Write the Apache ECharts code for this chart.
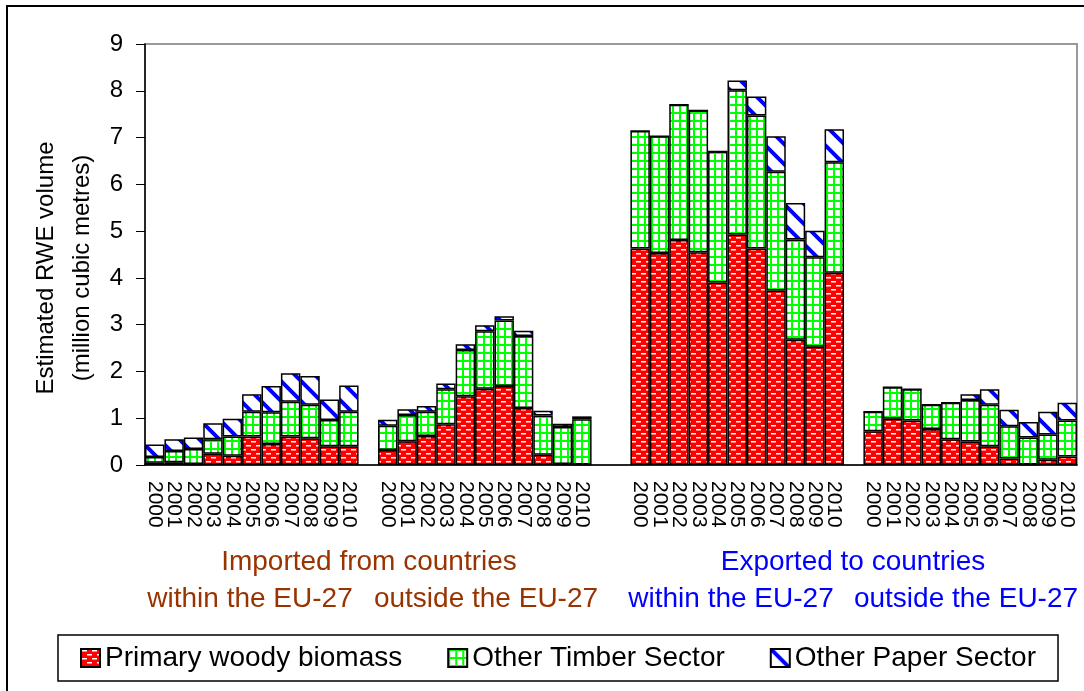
<!DOCTYPE html>
<html>
<head>
<meta charset="utf-8">
<script src="https://cdn.jsdelivr.net/npm/echarts@6/dist/echarts.min.js"></script>
<style>
  html, body { margin: 0; padding: 0; background: #fff; }
  #chart { width: 1084px; height: 691px; }
</style>
</head>
<body>
<div id="chart"></div>
<script>
// years shown under every group
const years = ['2000', '2001', '2002', '2003', '2004', '2005', '2006', '2007', '2008', '2009', '2010'];

// imported from countries within the EU-27
const impInPrimary = [0.05, 0.06, 0.02, 0.24, 0.20, 0.61, 0.45, 0.61, 0.57, 0.40, 0.40];
const impInTimber  = [0.12, 0.24, 0.32, 0.31, 0.41, 0.53, 0.68, 0.74, 0.72, 0.56, 0.74];
const impInPaper   = [0.27, 0.25, 0.25, 0.34, 0.38, 0.37, 0.56, 0.61, 0.61, 0.44, 0.56];

// imported from countries outside the EU-27
const impOutPrimary = [0.32, 0.51, 0.62, 0.87, 1.47, 1.63, 1.69, 1.22, 0.22, 0.02, 0.01];
const impOutTimber  = [0.52, 0.56, 0.52, 0.75, 0.99, 1.23, 1.40, 1.54, 0.84, 0.79, 0.97];
const impOutPaper   = [0.13, 0.12, 0.12, 0.12, 0.12, 0.13, 0.09, 0.11, 0.10, 0.07, 0.06];

// exported to countries within the EU-27
const expInPrimary = [4.63, 4.53, 4.81, 4.55, 3.90, 4.93, 4.63, 3.73, 2.68, 2.53, 4.11];
const expInTimber  = [2.51, 2.50, 2.89, 3.03, 2.80, 3.08, 2.84, 2.54, 2.14, 1.91, 2.36];
const expInPaper   = [0, 0, 0, 0, 0, 0.21, 0.41, 0.76, 0.78, 0.57, 0.71];

// exported to countries outside the EU-27
const expOutPrimary = [0.72, 0.99, 0.95, 0.77, 0.55, 0.50, 0.40, 0.14, 0.01, 0.11, 0.18];
const expOutTimber  = [0.42, 0.67, 0.67, 0.52, 0.78, 0.89, 0.89, 0.69, 0.58, 0.54, 0.77];
const expOutPaper   = [0, 0, 0, 0, 0, 0.12, 0.33, 0.35, 0.33, 0.49, 0.38];

const seriesNames = ['Primary woody biomass', 'Other Timber Sector', 'Other Paper Sector'];

// groups with the number of empty categories placed before each one
const groups = [
  { gap: 0, parts: [impInPrimary, impInTimber, impInPaper] },
  { gap: 1, parts: [impOutPrimary, impOutTimber, impOutPaper] },
  { gap: 2, parts: [expInPrimary, expInTimber, expInPaper] },
  { gap: 1, parts: [expOutPrimary, expOutTimber, expOutPaper] }
];

const categories = [];
const stacks = [[], [], []];
groups.forEach(g => {
  for (let i = 0; i < g.gap; i++) {
    categories.push('');
    stacks.forEach(s => s.push('-'));
  }
  years.forEach((y, i) => {
    categories.push(y);
    stacks.forEach((s, k) => s.push(g.parts[k][i]));
  });
});

// fill patterns
function makePattern(w, h, draw) {
  const c = document.createElement('canvas');
  c.width = w; c.height = h;
  draw(c.getContext('2d'), w, h);
  return { image: c, repeat: 'repeat' };
}

const brick = makePattern(10, 8, (ctx, w, h) => {
  ctx.fillStyle = '#ff0000';
  ctx.fillRect(0, 0, w, h);
  ctx.fillStyle = '#ffffff';
  ctx.fillRect(1, 1, 5, 1.5);
  ctx.fillRect(6, 5, 4, 1.5);
  ctx.fillRect(0, 5, 1, 1.5);
});

const grid = makePattern(7, 8, (ctx, w, h) => {
  ctx.fillStyle = '#ffffff';
  ctx.fillRect(0, 0, w, h);
  ctx.fillStyle = '#00ff00';
  ctx.fillRect(0, 0, 2, h);
  ctx.fillRect(0, 0, w, 2);
});

const stripe = makePattern(20, 20, (ctx, w, h) => {
  ctx.fillStyle = '#ffffff';
  ctx.fillRect(0, 0, w, h);
  ctx.strokeStyle = '#0000ff';
  ctx.lineWidth = 4;
  ctx.beginPath();
  ctx.moveTo(-5, -5); ctx.lineTo(w + 5, h + 5);
  ctx.moveTo(-5, h - 5); ctx.lineTo(5, h + 5);
  ctx.moveTo(w - 5, -5); ctx.lineTo(w + 5, 5);
  ctx.stroke();
});

const fills = [brick, grid, stripe];
const font = 'Liberation Sans, Arial, sans-serif';

const chart = echarts.init(document.getElementById('chart'));
chart.setOption({
  backgroundColor: '#fff',
  animation: false,
  textStyle: { fontFamily: font },
  grid: {
    left: 145, right: 7, top: 44, bottom: 226,
    show: true, borderColor: '#999', borderWidth: 2,
    outerBoundsMode: 'none'
  },
  legend: {
    left: 58, top: 635,
    padding: [9, 22, 9, 22],
    icon: 'rect',
    itemWidth: 19, itemHeight: 18, itemGap: 45,
    borderColor: '#000', borderWidth: 1.5,
    textStyle: { fontSize: 28, color: '#000' },
    data: seriesNames
  },
  xAxis: {
    type: 'category',
    data: categories,
    axisLine: { lineStyle: { color: '#000', width: 1.5 } },
    axisTick: { interval: 0, length: 7, lineStyle: { color: '#000' } },
    axisLabel: { interval: 0, rotate: -90, margin: 16, fontSize: 21, color: '#000' }
  },
  yAxis: {
    type: 'value',
    min: 0, max: 9, interval: 1,
    splitLine: { show: false },
    axisLine: { show: true, lineStyle: { color: '#000', width: 1.5 } },
    axisTick: { show: true, length: 9, lineStyle: { color: '#000' } },
    axisLabel: { margin: 22, fontSize: 24, color: '#000' }
  },
  series: seriesNames.map((name, k) => ({
    name: name,
    type: 'bar',
    stack: 'rwe',
    barCategoryGap: '0%',
    data: stacks[k],
    itemStyle: { color: fills[k], borderColor: '#000', borderWidth: 1.5 }
  })),
  graphic: [
    { type: 'rect', silent: true, shape: { x: 7, y: 6, width: 1100, height: 700 },
      style: { fill: 'none', stroke: '#000', lineWidth: 2 } },
    { type: 'text', x: 64, y: 268, rotation: Math.PI / 2,
      style: { text: 'Estimated RWE volume\n(million cubic metres)', fontSize: 24, lineHeight: 36,
        fill: '#000', align: 'center', verticalAlign: 'middle', fontFamily: font } },
    { type: 'text', x: 369, y: 562,
      style: { text: 'Imported from countries', fontSize: 28, fill: '#993300', align: 'center', verticalAlign: 'middle', fontFamily: font } },
    { type: 'text', x: 250, y: 599,
      style: { text: 'within the EU-27', fontSize: 28, fill: '#993300', align: 'center', verticalAlign: 'middle', fontFamily: font } },
    { type: 'text', x: 486, y: 599,
      style: { text: 'outside the EU-27', fontSize: 28, fill: '#993300', align: 'center', verticalAlign: 'middle', fontFamily: font } },
    { type: 'text', x: 853, y: 562,
      style: { text: 'Exported to countries', fontSize: 28, fill: '#0000ff', align: 'center', verticalAlign: 'middle', fontFamily: font } },
    { type: 'text', x: 731, y: 599,
      style: { text: 'within the EU-27', fontSize: 28, fill: '#0000ff', align: 'center', verticalAlign: 'middle', fontFamily: font } },
    { type: 'text', x: 966, y: 599,
      style: { text: 'outside the EU-27', fontSize: 28, fill: '#0000ff', align: 'center', verticalAlign: 'middle', fontFamily: font } }
  ]
});
</script>
</body>
</html>
